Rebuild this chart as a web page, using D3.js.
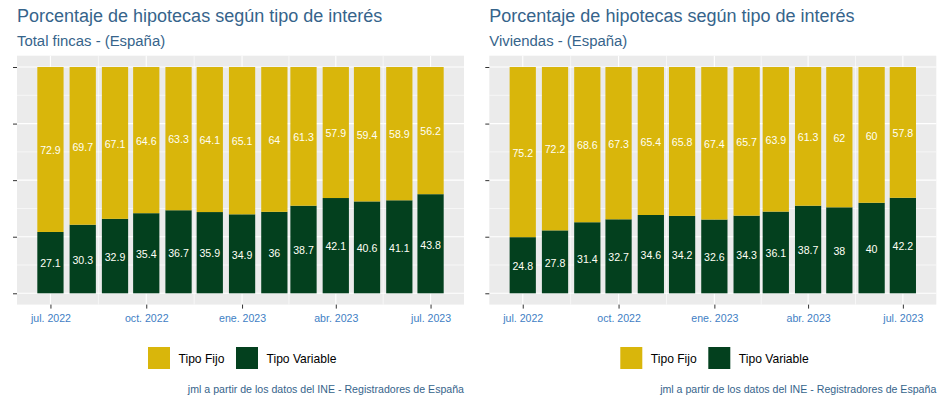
<!DOCTYPE html>
<html>
<head>
<meta charset="utf-8">
<script src="https://cdn.jsdelivr.net/npm/d3@7"></script>
<style>
  html, body { margin: 0; padding: 0; background: #ffffff; }
  svg { display: block; font-family: "Liberation Sans", Arial, sans-serif; }
</style>
</head>
<body>
<svg id="chart" width="944" height="404"></svg>
<script>
// ---- Data ----
const months = ["2022-07-01","2022-08-01","2022-09-01","2022-10-01","2022-11-01","2022-12-01",
                "2023-01-01","2023-02-01","2023-03-01","2023-04-01","2023-05-01","2023-06-01","2023-07-01"];
const seriesNames = ["Tipo Fijo", "Tipo Variable"];
const totalFijo     = [72.9, 69.7, 67.1, 64.6, 63.3, 64.1, 65.1, 64, 61.3, 57.9, 59.4, 58.9, 56.2];
const totalVariable = [27.1, 30.3, 32.9, 35.4, 36.7, 35.9, 34.9, 36, 38.7, 42.1, 40.6, 41.1, 43.8];
const vivFijo       = [75.2, 72.2, 68.6, 67.3, 65.4, 65.8, 67.4, 65.7, 63.9, 61.3, 62, 60, 57.8];
const vivVariable   = [24.8, 27.8, 31.4, 32.7, 34.6, 34.2, 32.6, 34.3, 36.1, 38.7, 38, 40, 42.2];
const xTickDates = ["2022-07-01","2022-10-01","2023-01-01","2023-04-01","2023-07-01"];
const xTickLabels = ["jul. 2022","oct. 2022","ene. 2023","abr. 2023","jul. 2023"];
const yTicks = [0, 25, 50, 75, 100];
const titleText = "Porcentaje de hipotecas según tipo de interés";
const subtitles = ["Total fincas - (España)", "Viviendas - (España)"];
const captionText = "jml a partir de los datos del INE - Registradores de España";

// ---- Style ----
const colFijo = "#D9B60B", colVar = "#03401E";
const titleCol = "#36648B", tickCol = "#4180C4", captionCol = "#36648B";
const svg = d3.select("#chart");
const parse = d3.utcParse("%Y-%m-%d");
const DAY = 86400000;

function drawPanel(ox, subtitle, fijo, variable) {
  const g = svg.append("g").attr("transform", `translate(${ox},0)`);
  const pL = 17, pR = 464, pT = 55.7, pB = 304.6;
  const dates = months.map(parse);
  const halfW = 0.9 * 28 * DAY / 2;
  const d0 = +dates[0] - halfW, d1 = +dates[dates.length - 1] + halfW;
  const ex = (d1 - d0) * 0.05;
  const x = d3.scaleUtc().domain([new Date(d0 - ex), new Date(d1 + ex)]).range([pL, pR]);
  const y = d3.scaleLinear().domain([-5, 105]).range([pB, pT]);

  // panel
  g.append("rect").attr("x", pL).attr("y", pT).attr("width", pR - pL).attr("height", pB - pT).attr("fill", "#EBEBEB");

  // grid
  const tDates = xTickDates.map(parse);
  const minorX = [];
  for (let i = 0; i < tDates.length - 1; i++) minorX.push(new Date((+tDates[i] + +tDates[i + 1]) / 2));
  g.selectAll(".gxm").data(minorX).join("line")
    .attr("x1", d => x(d)).attr("x2", d => x(d)).attr("y1", pT).attr("y2", pB)
    .attr("stroke", "#fff").attr("stroke-width", 0.6);
  const minorY = [12.5, 37.5, 62.5, 87.5];
  g.selectAll(".gym").data(minorY).join("line")
    .attr("x1", pL).attr("x2", pR).attr("y1", d => y(d)).attr("y2", d => y(d))
    .attr("stroke", "#fff").attr("stroke-width", 0.6);
  g.selectAll(".gx").data(tDates).join("line")
    .attr("x1", d => x(d)).attr("x2", d => x(d)).attr("y1", pT).attr("y2", pB)
    .attr("stroke", "#fff").attr("stroke-width", 1.1);
  g.selectAll(".gy").data(yTicks).join("line")
    .attr("x1", pL).attr("x2", pR).attr("y1", d => y(d)).attr("y2", d => y(d))
    .attr("stroke", "#fff").attr("stroke-width", 1.1);

  // stacked bars
  const rows = dates.map((d, i) => ({ date: d, "Tipo Variable": variable[i], "Tipo Fijo": fijo[i] }));
  const stack = d3.stack().keys(["Tipo Variable", "Tipo Fijo"])(rows);
  const colors = { "Tipo Fijo": colFijo, "Tipo Variable": colVar };
  stack.forEach(layer => {
    g.append("g").selectAll("rect").data(layer).join("rect")
      .attr("x", d => x(new Date(+d.data.date - halfW)))
      .attr("width", d => x(new Date(+d.data.date + halfW)) - x(new Date(+d.data.date - halfW)))
      .attr("y", d => y(d[1]))
      .attr("height", d => y(d[0]) - y(d[1]))
      .attr("fill", colors[layer.key]);
    g.append("g").selectAll("text").data(layer).join("text")
      .attr("x", d => x(d.data.date))
      .attr("y", d => y((d[0] + d[1]) / 2))
      .attr("dy", "0.45em")
      .attr("text-anchor", "middle")
      .attr("font-size", "10.6px")
      .attr("fill", "#FFFFF5")
      .text(d => d.data[layer.key]);
  });

  // axes
  const xAxis = d3.axisBottom(x).tickValues(tDates).tickSize(4).tickPadding(3)
    .tickFormat((d, i) => xTickLabels[i]);
  const ax = g.append("g").attr("transform", `translate(0,${pB})`).call(xAxis);
  ax.select(".domain").remove();
  ax.selectAll(".tick line").attr("stroke", "#333333").attr("stroke-width", 1);
  ax.selectAll(".tick text").attr("fill", tickCol).attr("font-size", "10.6px")
    .attr("font-family", "Liberation Sans, Arial, sans-serif").attr("dy", "0.95em");

  const yAxis = d3.axisLeft(y).tickValues(yTicks).tickSize(4).tickFormat("");
  const ay = g.append("g").attr("transform", `translate(${pL},0)`).call(yAxis);
  ay.select(".domain").remove();
  ay.selectAll(".tick line").attr("stroke", "#333333").attr("stroke-width", 1);

  // titles
  g.append("text").attr("x", pL).attr("y", 22).attr("font-size", "18px").attr("fill", titleCol).text(titleText);
  g.append("text").attr("x", pL).attr("y", 46).attr("font-size", "14.9px").attr("fill", titleCol).text(subtitle);

  // legend
  const lg = g.append("g");
  const keyX = [148, 236], textX = [178.5, 266.5];
  seriesNames.forEach((s, i) => {
    lg.append("rect").attr("x", keyX[i]).attr("y", 347).attr("width", 22).attr("height", 22)
      .attr("fill", colors[s]);
    lg.append("text").attr("x", textX[i]).attr("y", 363).attr("font-size", "12.1px").attr("fill", "#000").text(s);
  });

  // caption
  g.append("text").attr("x", pR).attr("y", 393).attr("text-anchor", "end")
    .attr("font-size", "10.6px").attr("fill", captionCol).text(captionText);
}

drawPanel(0, subtitles[0], totalFijo, totalVariable);
drawPanel(472.3, subtitles[1], vivFijo, vivVariable);
</script>
</body>
</html>
